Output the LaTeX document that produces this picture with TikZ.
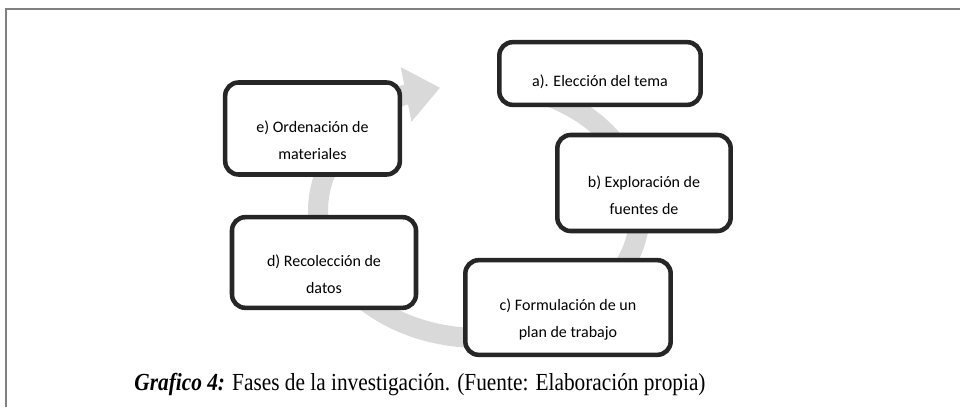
\documentclass[tikz,border=0pt]{standalone}
\usepackage{fontspec}
\setmainfont{Liberation Serif}
\newfontfamily\boxfont{Carlito}
\usetikzlibrary{arrows.meta}

\tikzset{
  fase/.style={draw=black!85, line width=3.4pt, rounded corners=10pt, fill=white, inner sep=0pt},
  fasetexto/.style={align=center, font=\boxfont\fontsize{12}{20}\selectfont, yshift=-9pt},
  ciclo/.style={draw=black!15, line width=15pt, -{Triangle[width=40pt,length=26pt]}},
}

\begin{document}
\begin{tikzpicture}[x=0.75pt, y=0.75pt]
    \useasboundingbox (0,0) rectangle (960,407);
    % marco
    \draw[black!50, line width=1.5pt] (6,0) -- (6,398) -- (960,398);

    % flecha circular
    \coordinate (inicio) at (520.7,318.7);
    \draw[ciclo] (inicio) arc[start angle=75, end angle=-256, x radius=161, y radius=127];

    % fases
    \node[fase, minimum width=151pt, minimum height=47pt,
        label={[fasetexto, yshift=2.6pt]center:a). Elección del tema}] (tema) at (600,333.5) {};
    \node[fase, minimum width=130pt, minimum height=72pt,
        label={[fasetexto]center:b) Exploración de\\fuentes de}] (fuentes) at (644,224) {};
    \node[fase, minimum width=154pt, minimum height=71pt,
        label={[fasetexto]center:c) Formulación de un\\plan de trabajo}] (plan) at (568,99.5) {};
    \node[fase, minimum width=138pt, minimum height=68pt,
        label={[fasetexto]center:d) Recolección de\\datos}] (datos) at (324,144.5) {};
    \node[fase, minimum width=131pt, minimum height=69pt,
        label={[fasetexto]center:e) Ordenación de\\materiales}] (materiales) at (312.5,278.5) {};

    \node[anchor=base, font=\fontsize{16}{19}\selectfont] (pie) at (420,17)
        {\scalebox{1}[1.15]{\textbf{\textit{Grafico 4:}} Fases de la investigación. (Fuente: Elaboración propia)}};
\end{tikzpicture}
\end{document}
